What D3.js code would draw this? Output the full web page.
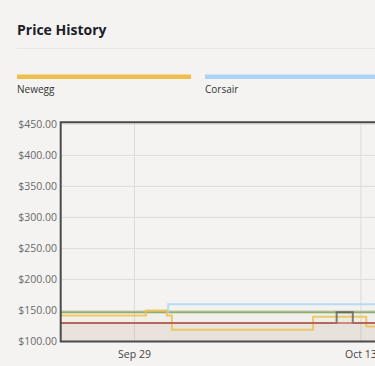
<!DOCTYPE html>
<html>
<head>
<meta charset="utf-8">
<script src="https://cdn.jsdelivr.net/npm/d3@7"></script>
<style>
  html, body { margin: 0; padding: 0; background: #f4f3f1; overflow: hidden; }
  svg { display: block; font-family: "Open Sans", "Noto Sans", sans-serif; }
</style>
</head>
<body>
<svg id="chart"></svg>
<script>
// series names, colours (legend order)
const stores = ["Newegg", "Corsair", "Amazon", "B&H", "Best Buy"];
const storeColors = ["#f0be4a", "#aad4f2", "#7a9c48", "#cc604e", "#505050"];

// price steps per store: [date, price]
const neweggPrices = [
  ["2021-09-24T10:30", 141.99], ["2021-09-29T17:00", 149.99], ["2021-10-01T00:00", 141.99],
  ["2021-10-01T07:30", 118.99], ["2021-10-10T01:00", 139.99], ["2021-10-13T08:00", 123.99],
  ["2021-10-20T00:00", 123.99]
];
const corsairPrices = [
  ["2021-10-01T00:00", 146.99], ["2021-10-01T02:00", 159.99], ["2021-10-20T00:00", 159.99]
];
const amazonPrices = [
  ["2021-09-24T10:30", 146.99], ["2021-10-20T00:00", 146.99]
];
const bhPrices = [
  ["2021-09-24T10:30", 129.99], ["2021-10-20T00:00", 129.99]
];
const bestBuyPrices = [
  ["2021-09-24T10:30", 129.99], ["2021-10-11T12:00", 146.99], ["2021-10-12T12:00", 129.99],
  ["2021-10-20T00:00", 129.99]
];
const seriesData = [neweggPrices, corsairPrices, amazonPrices, bhPrices, bestBuyPrices];

// axis ticks
const priceTicks = [100, 150, 200, 250, 300, 350, 400, 450];
const dateTicks = ["2021-09-29", "2021-10-13"];

const width = 375, height = 366;
const margin = {top: 122.3, left: 60.7, bottom: 341.5};
const parse = d3.timeParse("%Y-%m-%dT%H:%M");
const parseDay = d3.timeParse("%Y-%m-%d");

const svg = d3.select("#chart").attr("width", width).attr("height", height);

// title + divider
svg.append("text")
  .attr("x", 17).attr("y", 35)
  .attr("font-size", 14).attr("font-weight", 700).attr("fill", "#1b1d2a")
  .text("Price History");
svg.append("line")
  .attr("x1", 17).attr("x2", width).attr("y1", 48.5).attr("y2", 48.5)
  .attr("stroke", "#e8e7e5");

// legend: only the entries that fit the visible width
const legendStep = 188;
const legend = svg.append("g").selectAll("g")
  .data(stores.filter((d, i) => 17 + i * legendStep + 60 < width))
  .join("g")
  .attr("transform", (d, i) => `translate(${17 + i * legendStep},0)`);
legend.append("rect")
  .attr("y", 74.5).attr("width", 174).attr("height", 4.5)
  .attr("fill", (d, i) => storeColors[i]);
legend.append("text")
  .attr("y", 93).attr("font-size", 10).attr("fill", "#333")
  .text(d => d);

// scales
const x = d3.scaleTime()
  .domain([parse("2021-09-24T10:30"), parse("2021-10-20T00:00")])
  .range([margin.left, margin.left + 413.4]);
const y = d3.scaleLinear().domain([100, 450]).range([341.5, 124.3]);

const plotRight = x.range()[1];

// grid
svg.append("g").selectAll("line")
  .data(priceTicks)
  .join("line")
  .attr("x1", margin.left).attr("x2", plotRight)
  .attr("y1", d => y(d)).attr("y2", d => y(d))
  .attr("stroke", "#dcdcda");
svg.append("g").selectAll("line")
  .data(dateTicks.map(parseDay))
  .join("line")
  .attr("x1", d => x(d)).attr("x2", d => x(d))
  .attr("y1", margin.top).attr("y2", margin.bottom)
  .attr("stroke", "#dcdcda");

// y labels
svg.append("g").selectAll("text")
  .data(priceTicks)
  .join("text")
  .attr("x", 57).attr("y", d => y(d))
  .attr("dy", "0.35em").attr("text-anchor", "end")
  .attr("font-size", 10.5).attr("fill", "#6a6a6a")
  .text(d => d3.format("$,.2f")(d));

// x labels
svg.append("g").selectAll("text")
  .data(dateTicks.map(parseDay))
  .join("text")
  .attr("x", d => x(d)).attr("y", 357.5)
  .attr("text-anchor", "middle")
  .attr("font-size", 10.5).attr("fill", "#444")
  .text(d => d3.timeFormat("%b %d")(d));

svg.append("clipPath").attr("id", "plot-clip")
  .append("rect")
  .attr("x", margin.left).attr("y", margin.top)
  .attr("width", plotRight - margin.left).attr("height", margin.bottom - margin.top);

const plot = svg.append("g").attr("clip-path", "url(#plot-clip)");

const area = d3.area()
  .curve(d3.curveStepAfter)
  .x(d => x(parse(d[0])))
  .y0(y(100))
  .y1(d => y(d[1]));
const line = d3.line()
  .curve(d3.curveStepAfter)
  .x(d => x(parse(d[0])))
  .y(d => y(d[1]));

plot.selectAll(".area")
  .data(seriesData)
  .join("path")
  .attr("class", "area")
  .attr("d", area)
  .attr("fill", (d, i) => storeColors[i])
  .attr("fill-opacity", (d, i) => i === 3 ? 0.05 : 0.025);

// draw order: green, blue, yellow, dark, red
const order = [2, 1, 0, 4, 3];
plot.selectAll(".line")
  .data(order)
  .join("path")
  .attr("class", "line")
  .attr("d", i => line(seriesData[i]))
  .attr("fill", "none")
  .attr("stroke", i => storeColors[i])
  .attr("stroke-width", 2)
  .attr("stroke-opacity", i => i === 3 || i === 4 ? 0.7 : 0.8);

// frame
svg.append("path")
  .attr("d", `M${plotRight},${margin.top}H${margin.left}V${margin.bottom}H${plotRight}`)
  .attr("fill", "none")
  .attr("stroke", "#4a4a4a")
  .attr("stroke-width", 2);
</script>
</body>
</html>
